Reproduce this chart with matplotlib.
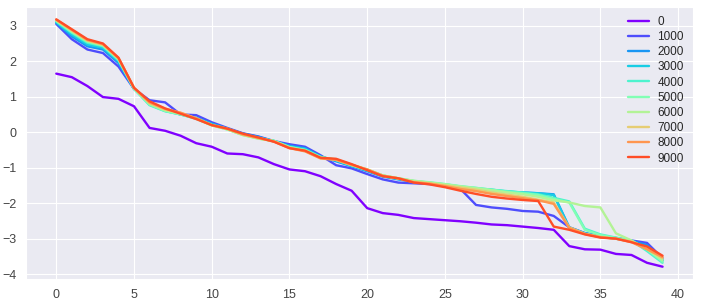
import matplotlib
matplotlib.use("Agg")
import matplotlib.pyplot as plt
import seaborn as sns
import numpy as np

sns.set_style("darkgrid")
plt.rcParams["font.family"] = ["Liberation Sans Narrow", "Liberation Sans", "DejaVu Sans"]

LABELS = ["0", "1000", "2000", "3000", "4000", "5000", "6000", "7000", "8000", "9000"]

s0 = [1.65, 1.55, 1.30, 0.99, 0.94, 0.73, 0.12, 0.04, -0.10, -0.31, -0.41, -0.60, -0.62, -0.71, -0.90, -1.05,
      -1.10, -1.24, -1.46, -1.65, -2.14, -2.28, -2.33, -2.42, -2.45, -2.48, -2.51, -2.55, -2.60, -2.62, -2.66,
      -2.70, -2.75, -3.21, -3.30, -3.31, -3.43, -3.46, -3.68, -3.79]
s1 = [3.05, 2.62, 2.33, 2.23, 1.85, 1.22, 0.90, 0.84, 0.50, 0.48, 0.28, 0.12, -0.03, -0.12, -0.25, -0.34,
      -0.41, -0.65, -0.93, -1.02, -1.18, -1.33, -1.42, -1.44, -1.46, -1.52, -1.60, -2.05, -2.12, -2.16, -2.22,
      -2.24, -2.36, -2.68, -2.85, -2.93, -2.98, -3.05, -3.12, -3.55]
s2 = [3.08, 2.70, 2.42, 2.33, 1.95, 1.22, 0.82, 0.64, 0.50, 0.40, 0.24, 0.10, -0.04, -0.13, -0.26, -0.38,
      -0.45, -0.68, -0.82, -0.96, -1.10, -1.25, -1.33, -1.40, -1.45, -1.50, -1.55, -1.60, -1.63, -1.68, -1.70,
      -1.72, -1.75, -2.68, -2.84, -2.93, -2.99, -3.06, -3.18, -3.60]
s3 = [3.10, 2.75, 2.47, 2.38, 2.00, 1.23, 0.78, 0.60, 0.50, 0.40, 0.23, 0.10, -0.05, -0.15, -0.25, -0.40,
      -0.47, -0.69, -0.80, -0.95, -1.08, -1.24, -1.32, -1.38, -1.43, -1.48, -1.54, -1.59, -1.62, -1.67, -1.70,
      -1.72, -1.77, -2.70, -2.86, -2.95, -3.00, -3.08, -3.25, -3.62]
s4 = [3.12, 2.80, 2.52, 2.42, 2.03, 1.22, 0.76, 0.59, 0.50, 0.38, 0.20, 0.08, -0.07, -0.17, -0.24, -0.42,
      -0.50, -0.70, -0.78, -0.93, -1.06, -1.22, -1.30, -1.38, -1.42, -1.47, -1.53, -1.57, -1.62, -1.66, -1.70,
      -1.75, -1.85, -1.95, -2.72, -2.88, -2.97, -3.05, -3.35, -3.68]
s5 = [3.14, 2.82, 2.55, 2.44, 2.05, 1.23, 0.78, 0.60, 0.50, 0.38, 0.20, 0.08, -0.08, -0.18, -0.25, -0.42,
      -0.50, -0.70, -0.78, -0.93, -1.06, -1.22, -1.30, -1.37, -1.41, -1.46, -1.52, -1.57, -1.62, -1.68, -1.72,
      -1.77, -1.88, -1.98, -2.75, -2.90, -2.98, -3.08, -3.30, -3.65]
s6 = [3.15, 2.85, 2.57, 2.46, 2.07, 1.24, 0.80, 0.62, 0.52, 0.38, 0.19, 0.08, -0.08, -0.18, -0.25, -0.43,
      -0.52, -0.72, -0.76, -0.92, -1.05, -1.22, -1.30, -1.37, -1.42, -1.47, -1.53, -1.58, -1.64, -1.70, -1.75,
      -1.82, -1.92, -1.98, -2.08, -2.12, -2.85, -3.05, -3.30, -3.60]
s7 = [3.16, 2.87, 2.58, 2.47, 2.08, 1.25, 0.82, 0.64, 0.54, 0.39, 0.20, 0.09, -0.07, -0.17, -0.26, -0.44,
      -0.53, -0.73, -0.77, -0.92, -1.05, -1.22, -1.30, -1.40, -1.44, -1.50, -1.56, -1.62, -1.70, -1.76, -1.82,
      -1.90, -1.98, -2.68, -2.86, -2.95, -3.00, -3.08, -3.28, -3.55]
s8 = [3.17, 2.88, 2.60, 2.48, 2.09, 1.25, 0.84, 0.66, 0.55, 0.39, 0.20, 0.10, -0.06, -0.16, -0.26, -0.45,
      -0.54, -0.74, -0.78, -0.92, -1.05, -1.23, -1.30, -1.41, -1.45, -1.52, -1.60, -1.66, -1.74, -1.80, -1.86,
      -1.92, -2.02, -2.70, -2.87, -2.96, -3.00, -3.10, -3.30, -3.52]
s9 = [3.18, 2.90, 2.62, 2.50, 2.10, 1.25, 0.87, 0.67, 0.52, 0.37, 0.20, 0.10, -0.04, -0.15, -0.27, -0.45,
      -0.52, -0.72, -0.75, -0.90, -1.07, -1.24, -1.30, -1.42, -1.47, -1.55, -1.65, -1.74, -1.82, -1.87, -1.91,
      -1.94, -2.66, -2.75, -2.88, -2.97, -3.00, -3.10, -3.22, -3.48]

series = [s0, s1, s2, s3, s4, s5, s6, s7, s8, s9]

fig = plt.figure(figsize=(7.02, 3.03), dpi=100)
ax = fig.add_axes([0.037, 0.079, 0.950, 0.898])
cmap = plt.get_cmap("rainbow")
for i, (lab, ys) in enumerate(zip(LABELS, series)):
    ax.plot(np.arange(len(ys)), ys, color=cmap(i / 10), linewidth=1.7, label=lab)

ax.tick_params(labelsize=9, colors="#444444")
ax.legend(frameon=False, fontsize=8.5, loc="upper right", labelspacing=0.27,
          handlelength=1.8, handletextpad=0.7, borderaxespad=0.35)
fig.savefig("out.png", dpi=100)
